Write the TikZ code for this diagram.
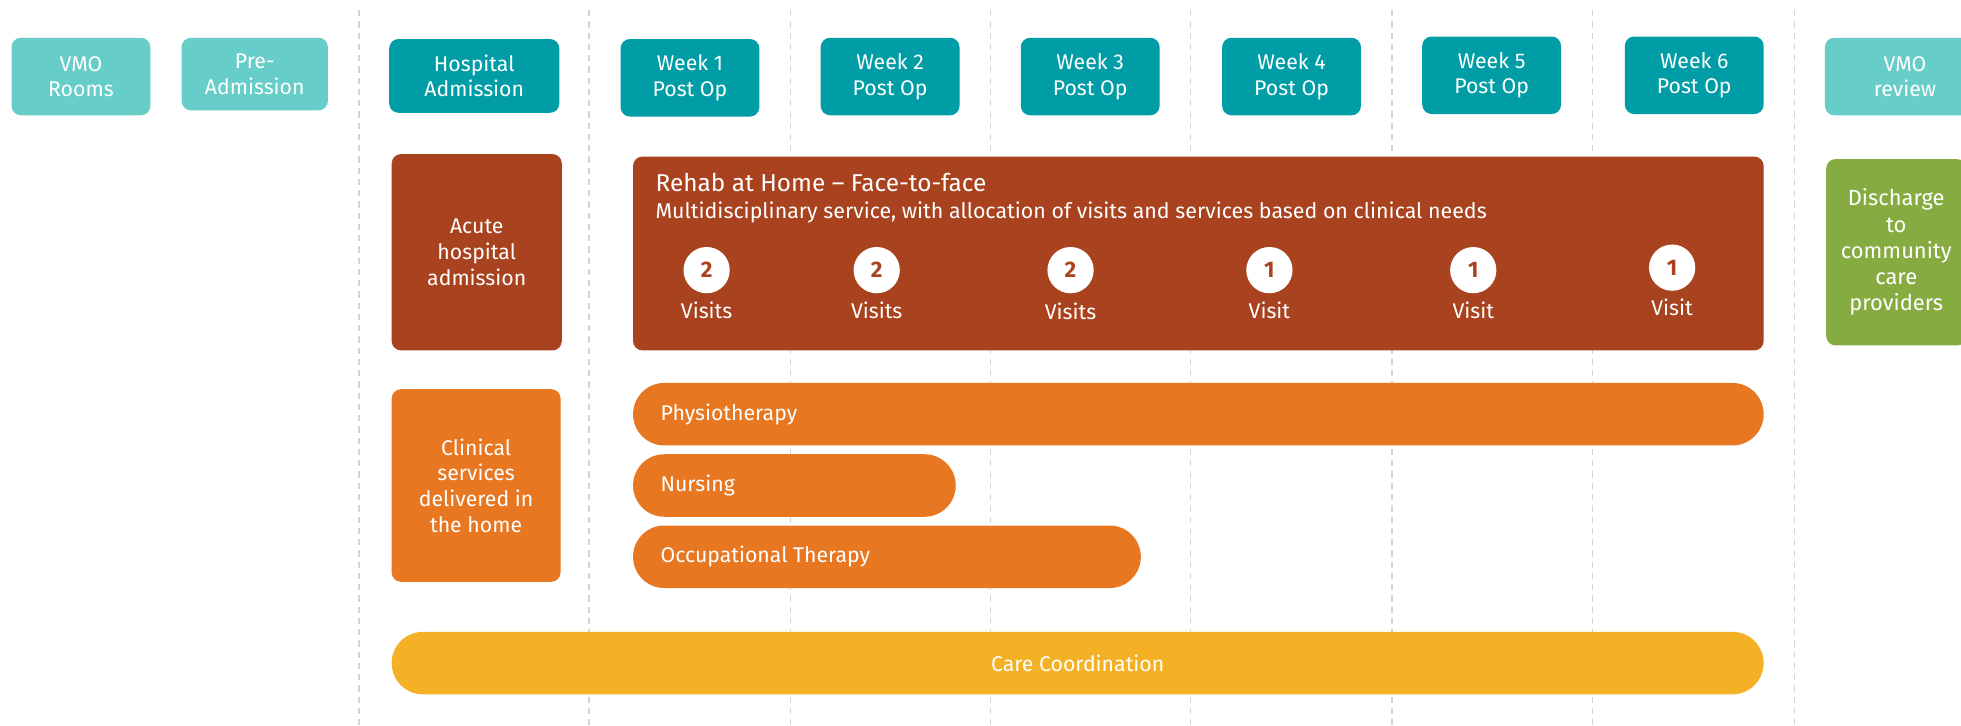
\documentclass[tikz,border=0pt]{standalone}
\usepackage{fontspec}
\setmainfont{Fira Sans}
\definecolor{lteal}{HTML}{66CDC8}
\definecolor{dteal}{HTML}{009DA6}
\definecolor{rust}{HTML}{A9421E}
\definecolor{orng}{HTML}{E87722}
\definecolor{gold}{HTML}{F4B125}
\definecolor{grn}{HTML}{86AC41}
\definecolor{gridc}{HTML}{D4D4D4}
\begin{document}
\begin{tikzpicture}[x=1pt,y=-1pt,
  box/.style={rectangle, rounded corners=7.5pt, text=white, align=center, inner sep=0pt, anchor=north west, font=\fontsize{17}{20.5}\selectfont},
  hdr/.style={box, minimum width=111pt, minimum height=62pt},
  pill/.style={rectangle, rounded corners=25pt, inner sep=0pt, anchor=north west, minimum height=50pt},
  gridline/.style={gridc, line width=0.9pt, dash pattern=on 5pt off 4pt},
  num/.style={circle, fill=white, text=rust, inner sep=0pt, minimum size=37pt, font=\bfseries\fontsize{18}{20}\selectfont},
  lab/.style={text=white, inner sep=0pt, font=\fontsize{17}{20}\selectfont}]
\useasboundingbox (0,0) rectangle (1568,580);
\clip (0,0) rectangle (1568,580);
\fill[white] (0,0) rectangle (1568,580);
% grid lines
\foreach \gx in {287,471,632,792,952,1113,1273,1435}
  \draw[gridline] (\gx,8) -- (\gx,580);
% header row
\node[hdr, fill=lteal] (vmo) at (9,30) {VMO\\Rooms};
\node[hdr, fill=lteal, minimum width=117pt, minimum height=58pt] (pre) at (145,30) {Pre-\\Admission};
\node[hdr, fill=dteal, minimum width=136pt, minimum height=59pt] (hosp) at (311,31) {Hospital\\Admission};
\node[hdr, fill=dteal] (w1) at (496,31) {Week 1\\Post Op};
\node[hdr, fill=dteal] (w2) at (656,30) {Week 2\\Post Op};
\node[hdr, fill=dteal] (w3) at (816,30) {Week 3\\Post Op};
\node[hdr, fill=dteal] (w4) at (977,30) {Week 4\\Post Op};
\node[hdr, fill=dteal] (w5) at (1137,29) {Week 5\\Post Op};
\node[hdr, fill=dteal] (w6) at (1299,29) {Week 6\\Post Op};
\node[hdr, fill=lteal, minimum width=128pt] (vmor) at (1459,30) {VMO\\review};
% second row
\node[box, fill=rust, minimum width=136pt, minimum height=157pt] (acute) at (313,123) {Acute\\hospital\\admission};
\node[box, fill=rust, minimum width=904pt, minimum height=155pt] (rehab) at (506,125) {};
\node[lab, anchor=base west, font=\fontsize{19.5}{22}\selectfont] (rtitle) at (524,153) {Rehab at Home – Face-to-face};
\node[lab, anchor=base west, font=\fontsize{17.1}{19}\selectfont] (rsub) at (524,175) {Multidisciplinary service, with allocation of visits and services based on clinical needs};
\node[num] (n1) at (565,216) {2};
\node[num] (n2) at (701,216) {2};
\node[num] (n3) at (856,216) {2};
\node[num] (n4) at (1015,216) {1};
\node[num] (n5) at (1178,216) {1};
\node[num] (n6) at (1337,214) {1};
\node[lab] (v1) at (565,248) {Visits};
\node[lab] (v2) at (701,248) {Visits};
\node[lab] (v3) at (856,249) {Visits};
\node[lab] (v4) at (1015,248) {Visit};
\node[lab] (v5) at (1178,248) {Visit};
\node[lab] (v6) at (1337,246) {Visit};
\node[box, fill=grn, minimum width=112pt, minimum height=149pt, font=\fontsize{17.5}{21}\selectfont] (disch) at (1460,127) {Discharge\\to\\community\\care\\providers};
% clinical services
\node[box, fill=orng, minimum width=135pt, minimum height=154pt] (clin) at (313,311) {Clinical\\services\\delivered in\\the home};
\node[pill, fill=orng, minimum width=904pt] (physio) at (506,306) {};
\node[lab, anchor=west] (physiot) at ([xshift=22pt]physio.west) {Physiotherapy};
\node[pill, fill=orng, minimum width=258pt] (nurs) at (506,363) {};
\node[lab, anchor=west] (nurst) at ([xshift=22pt]nurs.west) {Nursing};
\node[pill, fill=orng, minimum width=406pt] (ot) at (506,420) {};
\node[lab, anchor=west] (ott) at ([xshift=22pt]ot.west) {Occupational Therapy};
% care coordination
\node[pill, fill=gold, minimum width=1097pt] (care) at (313,505) {};
\node[lab] (caret) at (care.center) {Care Coordination};
\end{tikzpicture}
\end{document}
